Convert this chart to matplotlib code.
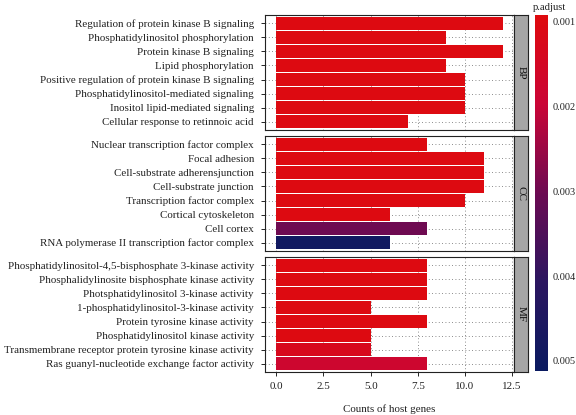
import numpy as np
import matplotlib
matplotlib.use('Agg')
from matplotlib import pyplot as plt
from matplotlib.colors import LinearSegmentedColormap, Normalize
from matplotlib.colorbar import ColorbarBase

plt.rcParams['font.family'] = ['Liberation Serif', 'DejaVu Serif']
plt.rcParams['font.size'] = 7.9

bp_terms = ['Regulation of protein kinase B signaling',
            'Phosphatidylinositol phosphorylation',
            'Protein kinase B signaling',
            'Lipid phosphorylation',
            'Positive regulation of protein kinase B signaling',
            'Phosphatidylinositol-mediated signaling',
            'Inositol lipid-mediated signaling',
            'Cellular response to retinnoic acid']
bp_counts = [12, 9, 12, 9, 10, 10, 10, 7]
bp_padj = [0.001, 0.001, 0.001, 0.001, 0.001, 0.001, 0.001, 0.001]

cc_terms = ['Nuclear transcription factor complex',
            'Focal adhesion',
            'Cell-substrate adherensjunction',
            'Cell-substrate junction',
            'Transcription factor complex',
            'Cortical cytoskeleton',
            'Cell cortex',
            'RNA polymerase II transcription factor complex']
cc_counts = [8, 11, 11, 11, 10, 6, 8, 6]
cc_padj = [0.001, 0.001, 0.001, 0.001, 0.001, 0.001, 0.003, 0.0049]

mf_terms = ['Phosphatidylinositol-4,5-bisphosphate 3-kinase activity',
            'Phosphalidylinosite bisphosphate kinase activity',
            'Photsphatidylinositol 3-kinase activity',
            '1-phosphatidylinositol-3-kinase activity',
            'Protein tyrosine kinase activity',
            'Phosphatidylinositol kinase activity',
            'Transmembrane receptor protein tyrosine kinase activity',
            'Ras guanyl-nucleotide exchange factor activity']
mf_counts = [8, 8, 8, 5, 8, 5, 5, 8]
mf_padj = [0.001, 0.001, 0.001, 0.001, 0.001, 0.001, 0.0013, 0.0018]

groups = ['BP', 'CC', 'MF']
x_ticks = [0.0, 2.5, 5.0, 7.5, 10.0, 12.5]
cbar_ticks = [0.001, 0.002, 0.003, 0.004, 0.005]

cmap = LinearSegmentedColormap.from_list(
    'padj', [(0.0, '#DE0A0E'), (0.25, '#CA0536'), (0.5, '#6C0A52'),
             (0.75, '#2C1660'), (1.0, '#0A1A60')])
norm = Normalize(vmin=0.00092, vmax=0.00512)

W, H = 576, 415
fig = plt.figure(figsize=(W / 100, H / 100), dpi=100)
txt = '#222222'

def px_axes(x0, y0, x1, y1):
    # pixel box (top-left origin) -> figure axes
    return fig.add_axes([x0 / W, 1 - y1 / H, (x1 - x0) / W, (y1 - y0) / H])

panels = [(bp_terms, bp_counts, bp_padj, 15, 130),
          (cc_terms, cc_counts, cc_padj, 136, 251),
          (mf_terms, mf_counts, mf_padj, 257, 372)]

for i, (terms, counts, padj, top, bot) in enumerate(panels):
    ax = px_axes(265, top, 514, bot)
    pos = np.arange(1, len(terms) + 1)
    ax.barh(pos, counts, height=0.9, color=cmap(norm(np.array(padj))), zorder=3)
    ax.set_xlim(-0.6, 12.6)
    ax.set_ylim(8.6, 0.4)
    ax.set_yticks(pos)
    ax.set_yticklabels(terms, color=txt)
    ax.set_xticks(x_ticks)
    ax.grid(True, linestyle=(0, (1, 3)), color='#666666', linewidth=0.6, zorder=0)
    ax.tick_params(axis='y', length=3, width=0.6, pad=5)
    for s in ax.spines.values():
        s.set_linewidth(0.8)
        s.set_color(txt)
    if i < 2:
        ax.tick_params(axis='x', length=0, labelbottom=False)
    else:
        ax.set_xticklabels(['0.0', '2.5', '5.0', '7.5', '10.0', '12.5'], color=txt)
        ax.tick_params(axis='x', length=3, width=0.6, pad=4)
        ax.set_xlabel('Counts of host genes', labelpad=10, color=txt)

    sx = px_axes(514, top, 528, bot)
    sx.set_facecolor('#A6A6A6')
    sx.set_xticks([])
    sx.set_yticks([])
    for s in sx.spines.values():
        s.set_linewidth(0.8)
        s.set_color(txt)
    sx.text(0.5, 0.5, groups[i], rotation=270, ha='center', va='center',
            fontsize=8, transform=sx.transAxes, color='#111111')

cax = px_axes(535, 15, 548, 371)
cb = ColorbarBase(cax, cmap=cmap, norm=norm, orientation='vertical')
cb.set_ticks(cbar_ticks)
cb.set_ticklabels(['0.001', '0.002', '0.003', '0.004', '0.005'])
cb.outline.set_visible(False)
cax.invert_yaxis()
cax.tick_params(length=0, pad=3, labelsize=7.4, labelcolor=txt)
fig.text(533 / W, 1 - 8 / H, 'p.adjust', ha='left', va='center', fontsize=7.7, color=txt)

fig.savefig('out.png', dpi=100)
